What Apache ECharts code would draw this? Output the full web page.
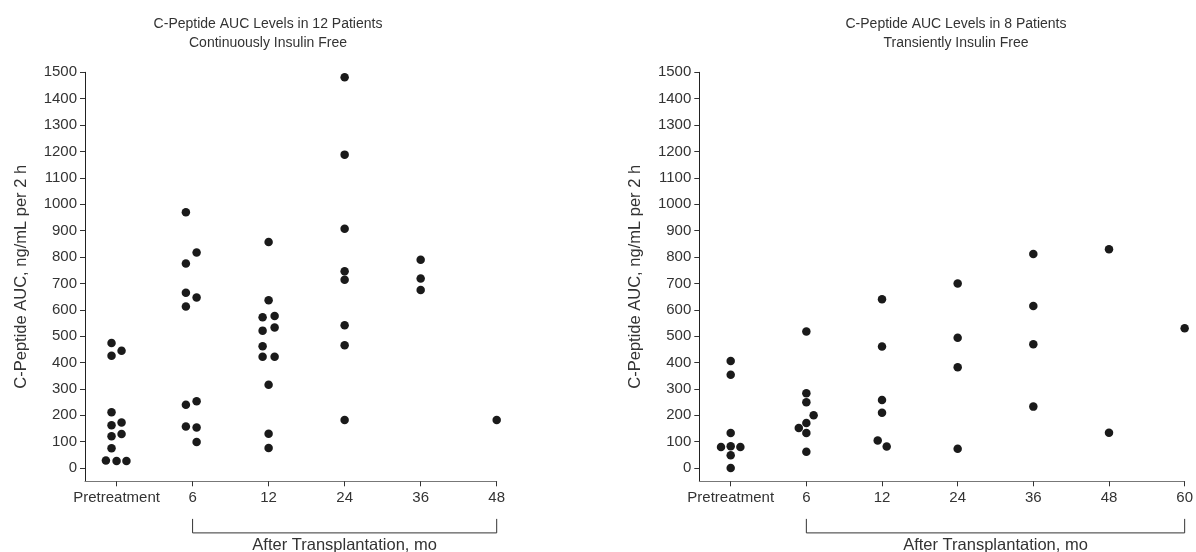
<!DOCTYPE html>
<html>
<head>
<meta charset="utf-8">
<script src="https://cdn.jsdelivr.net/npm/echarts@6/dist/echarts.min.js"></script>
<style>
html,body{margin:0;padding:0;background:#fff;}
#chart{width:1196px;height:552px;}
</style>
</head>
<body>
<div id="chart"></div>
<script>
// ---- data ----
const leftTitle = 'C-Peptide AUC Levels in 12 Patients\nContinuously Insulin Free';
const rightTitle = 'C-Peptide AUC Levels in 8 Patients\nTransiently Insulin Free';
const yName = 'C-Peptide AUC, ng/mL per 2 h';
const bracketLabel = 'After Transplantation, mo';
const leftCategories = ['Pretreatment', '6', '12', '24', '36', '48'];
const rightCategories = ['Pretreatment', '6', '12', '24', '36', '48', '60'];
const yTicks = [0,100,200,300,400,500,600,700,800,900,1000,1100,1200,1300,1400,1500];

// Continuously insulin free: values per time point, with horizontal jitter (category units)
const contValues = [
  [474, 426, 445, 212, 162, 173, 121, 129, 75, 29, 27, 27],
  [970, 817, 775, 665, 647, 612, 240, 253, 158, 154, 99],
  [857, 636, 572, 576, 521, 533, 462, 422, 422, 316, 130, 76],
  [1481, 1188, 907, 746, 714, 541, 466, 182],
  [790, 719, 675],
  [182]
];
const contJitter = [
  [-0.066, -0.066, 0.066, -0.066, -0.066, 0.066, -0.066, 0.066, -0.066, -0.14, 0, 0.13],
  [-0.088, 0.053, -0.088, -0.088, 0.053, -0.088, -0.088, 0.053, -0.088, 0.053, 0.053],
  [0, 0, -0.079, 0.079, -0.079, 0.079, -0.079, -0.079, 0.079, 0, 0, 0],
  [0, 0, 0, 0, 0, 0, 0, 0],
  [0, 0, 0],
  [0]
];
// Transiently insulin free
const transValues = [
  [406, 354, 133, 80, 83, 80, 49, 0],
  [518, 284, 250, 200, 171, 152, 133, 62],
  [640, 461, 258, 210, 105, 82],
  [700, 494, 382, 73],
  [811, 614, 469, 233],
  [829, 134],
  [530]
];
const transJitter = [
  [0, 0, 0, -0.128, 0, 0.128, 0, 0],
  [0, 0, 0, 0.096, 0, -0.10, 0, 0],
  [0, 0, 0, 0, -0.057, 0.062],
  [0, 0, 0, 0],
  [0, 0, 0, 0],
  [0, 0],
  [0]
];

// ---- build ----
const FONT = 'Liberation Sans, Arial, sans-serif';
const TXT = '#333';
const Y_MIN = -50, Y_MAX = 1500;

function points(values, jitter) {
  const out = [];
  values.forEach((arr, g) => arr.forEach((v, i) => out.push([g + jitter[g][i], v])));
  return out;
}

function xAxisFor(gridIndex, cats) {
  const idx = cats.map((_, i) => i);
  return {
    type: 'value', gridIndex, min: -0.415, max: cats.length - 1,
    axisLine: { show: true, onZero: false, lineStyle: { color: '#777', width: 1 } },
    axisTick: { show: true, customValues: idx, length: 5, lineStyle: { color: '#333' } },
    axisLabel: { customValues: idx, formatter: v => cats[Math.round(v)], color: TXT,
      fontFamily: FONT, fontSize: 15, margin: 9 },
    splitLine: { show: false }
  };
}
function yAxisFor(gridIndex) {
  return {
    type: 'value', gridIndex, min: Y_MIN, max: Y_MAX,
    name: yName, nameLocation: 'middle', nameRotate: 90, nameGap: 55,
    nameTextStyle: { color: TXT, fontFamily: FONT, fontSize: 16.5 },
    axisLine: { show: true, onZero: false, lineStyle: { color: '#222', width: 1 } },
    axisTick: { show: true, customValues: yTicks, length: 5, lineStyle: { color: '#333' } },
    axisLabel: { customValues: yTicks, formatter: v => String(v), color: TXT,
      fontFamily: FONT, fontSize: 15, margin: 8 },
    splitLine: { show: false }
  };
}
function bracketSeries(idx, lastCat) {
  return {
    type: 'custom', xAxisIndex: idx, yAxisIndex: idx, silent: true, clip: false,
    data: [[1, lastCat]],
    renderItem: (params, api) => {
      const a = api.coord([api.value(0), Y_MIN]);
      const b = api.coord([api.value(1), Y_MIN]);
      const y0 = a[1] + 37.6, y1 = a[1] + 51.6;
      return {
        type: 'group',
        children: [
          { type: 'polyline', shape: { points: [[a[0], y0], [a[0], y1], [b[0], y1], [b[0], y0]] },
            style: { stroke: '#333', lineWidth: 1, fill: null } },
          { type: 'text', x: (a[0] + b[0]) / 2, y: y1 + 4,
            style: { text: bracketLabel, fill: TXT, font: '16.5px ' + FONT, align: 'center', verticalAlign: 'top' } }
        ]
      };
    }
  };
}
function scatter(idx, data) {
  return { type: 'scatter', xAxisIndex: idx, yAxisIndex: idx, data, symbol: 'circle', symbolSize: 8.5,
    itemStyle: { color: '#1a1a1a', opacity: 1 }, silent: true };
}

const chart = echarts.init(document.getElementById('chart'), null, { renderer: 'canvas' });
chart.setOption({
  animation: false,
  backgroundColor: '#fff',
  title: [
    { text: leftTitle, left: 263, top: 10, textAlign: 'center',
      textStyle: { fontFamily: FONT, fontSize: 14, fontWeight: 'normal', color: TXT, lineHeight: 19 } },
    { text: rightTitle, left: 951, top: 10, textAlign: 'center',
      textStyle: { fontFamily: FONT, fontSize: 14, fontWeight: 'normal', color: TXT, lineHeight: 19 } }
  ],
  grid: [
    { left: 85, top: 72.3, width: 411.7, height: 409 },
    { left: 699.3, top: 72.3, width: 487.4, height: 409 }
  ],
  xAxis: [xAxisFor(0, leftCategories), xAxisFor(1, rightCategories)],
  yAxis: [yAxisFor(0), yAxisFor(1)],
  series: [
    scatter(0, points(contValues, contJitter)),
    scatter(1, points(transValues, transJitter)),
    bracketSeries(0, leftCategories.length - 1),
    bracketSeries(1, rightCategories.length - 1)
  ]
});
</script>
</body>
</html>
